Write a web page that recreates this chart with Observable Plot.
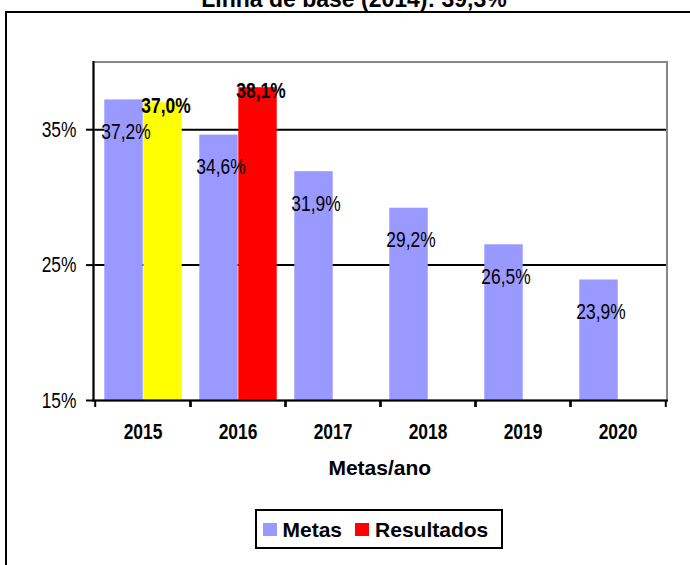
<!DOCTYPE html>
<html>
<head>
<meta charset="utf-8">
<script src="https://cdn.jsdelivr.net/npm/d3@7"></script>
<script src="https://cdn.jsdelivr.net/npm/@observablehq/plot@0.6"></script>
<style>
  body { margin: 0; background: #fff; }
  #wrap { position: relative; width: 690px; height: 565px; overflow: hidden; background: #fff;
          font-family: "Liberation Sans", Arial, sans-serif; color: #000; }
  #chart { position: absolute; left: 0; top: 0; }
  #frame { position: absolute; left: 5px; top: 10.5px; width: 800px; height: 700px;
           border-left: 2px solid #000; border-top: 2px solid #000; }
  #title { position: absolute; left: 0; width: 708px; top: -12px; text-align: center;
           font-weight: bold; font-size: 23px; line-height: 1; white-space: nowrap; }
  #xlabel { position: absolute; left: 0; width: 759.5px; top: 457px; text-align: center;
            font-weight: bold; font-size: 21px; line-height: 1; }
  #legend { position: absolute; left: 255px; top: 509px; width: 248px; height: 40px; box-sizing: border-box;
            border: 2px solid #000; background: #fff; display: flex; align-items: center;
            padding-left: 5.5px; font-weight: bold; font-size: 21px; line-height: 1; }
  #legend .sw { display: inline-block; width: 14px; height: 13px; margin-right: 6px; }
  #legend .gap { display: inline-block; width: 13px; }
</style>
</head>
<body>
<div id="wrap">
  <div id="chart"></div>
  <div id="frame"></div>
  <div id="title">Linha de base (2014): 39,3%</div>
  <div id="xlabel">Metas/ano</div>
  <div id="legend"></div>
</div>
<script>
// ---- data ----
const years = ["2015", "2016", "2017", "2018", "2019", "2020"];
const metas = [37.2, 34.6, 31.9, 29.2, 26.5, 23.9];
const resultYears = ["2015", "2016"];
const resultados = [37.0, 38.1];
const yTicks = [15, 25, 35];
const gridValues = [25, 35];
const seriesNames = ["Metas", "Resultados"];

// ---- styles ----
const metasColor = "#9999FF";
const resultColors = ["#FFFF00", "#FF0000"];
const legendColors = [metasColor, "#FF0000"];
const numFont = '"Liberation Sans", Arial, sans-serif';
const narrow = 0.79; // horizontal condensing of the numeric texts (Arial Narrow look)
const fs = 22;

const fmt = v => v.toFixed(1).replace(".", ",") + "%";
const metasData = years.map((year, i) => ({year, value: metas[i]}));
const resData = resultYears.map((year, i) => ({year, value: resultados[i]}));

const W = 690, H = 565, mL = 93, mR = 23.5, mT = 61.5, mB = 165;
const bw = (W - mL - mR) / years.length;
const padL = 9.3, barW = 39;

const chart = Plot.plot({
  width: W, height: H,
  marginLeft: mL, marginRight: mR, marginTop: mT, marginBottom: mB,
  style: {background: "transparent", fontFamily: numFont, fontSize: fs + "px", color: "#000", overflow: "visible"},
  x: {type: "band", domain: years, padding: 0, label: null},
  y: {domain: [15, 40], label: null},
  color: {domain: resultYears, range: resultColors},
  marks: [
    Plot.ruleY(gridValues, {stroke: "#000", strokeWidth: 2}),
    Plot.barY(metasData, {x: "year", y1: 15, y2: "value", fill: metasColor,
      insetLeft: padL, insetRight: bw - padL - barW}),
    Plot.barY(resData, {x: "year", y1: 15, y2: "value", fill: "year",
      insetLeft: padL + barW, insetRight: bw - padL - 2 * barW}),
    Plot.frame({stroke: "#888", strokeWidth: 2}),
    Plot.frame({anchor: "left", stroke: "#000", strokeWidth: 2}),
    Plot.frame({anchor: "bottom", stroke: "#000", strokeWidth: 2}),
    Plot.axisY({ticks: yTicks, tickFormat: d => d + "%", tickSize: 7, tickPadding: 10,
      strokeWidth: 2, label: null, fontSize: fs}),
    Plot.axisX({tickSize: 0, tickPadding: 23, fontWeight: "bold", label: null, fontSize: fs}),
    Plot.axisX({tickSize: 7, tickFormat: () => "", dx: -bw / 2, label: null, strokeWidth: 2}),
    Plot.axisX({tickSize: 7, tickFormat: () => "", dx: bw / 2, label: null, strokeWidth: 2}),
    Plot.text(metasData, {x: "year", y: "value", text: d => fmt(d.value),
      dx: padL + barW / 2 - bw / 2 + 2, dy: 32, fontSize: fs, fill: "#000"}),
    Plot.text(resData, {x: "year", y: "value", text: d => fmt(d.value),
      dx: 23, dy: 3, fontSize: fs, fontWeight: "bold", fill: "#000"})
  ]
});
document.getElementById("chart").appendChild(chart);

// condense the numeric texts horizontally (narrow font look)
chart.querySelectorAll("text").forEach(t => {
  const L = t.getComputedTextLength();
  if (L > 0) {
    t.setAttribute("textLength", (L * narrow).toFixed(2));
    t.setAttribute("lengthAdjust", "spacingAndGlyphs");
  }
});

// legend
const legend = document.getElementById("legend");
seriesNames.forEach((name, i) => {
  if (i > 0) { const g = document.createElement("span"); g.className = "gap"; legend.appendChild(g); }
  const sw = document.createElement("span");
  sw.className = "sw"; sw.style.background = legendColors[i];
  legend.appendChild(sw);
  const t = document.createElement("span");
  t.textContent = name;
  legend.appendChild(t);
});
</script>
</body>
</html>
